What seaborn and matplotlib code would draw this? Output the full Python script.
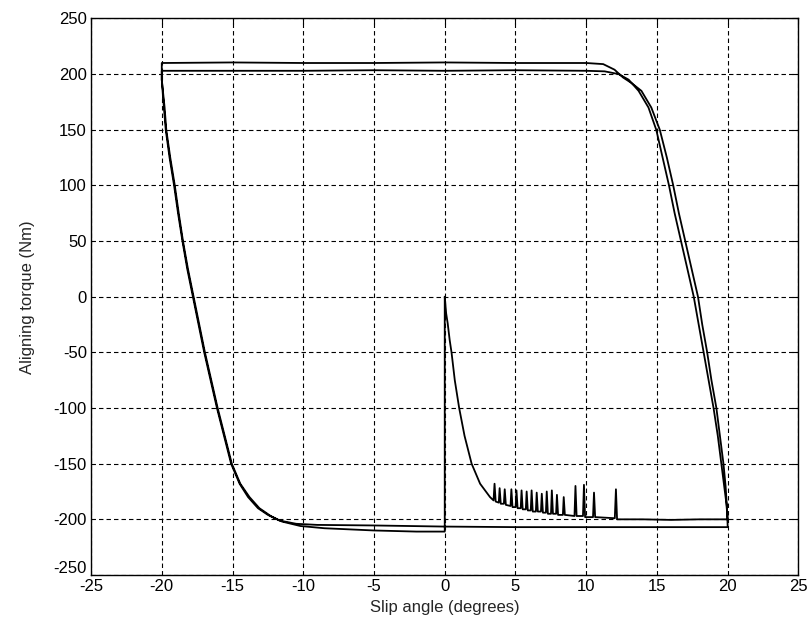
import numpy as np
import pandas as pd
import seaborn as sns
import matplotlib.pyplot as plt
import matplotlib.transforms as mtransforms

# initial run from zero slip: decay + chatter, then flat to 20 deg
transient_x = [0.00, 0.05, 0.10, 0.21, 0.35, 0.48, 0.71, 1.02, 1.40, 1.90, 2.50, 3.20,
               3.45, 3.52, 3.60, 3.82, 3.88, 3.96, 4.18, 4.24, 4.32, 4.65, 4.71, 4.79,
               5.01, 5.07, 5.15, 5.37, 5.43, 5.51, 5.73, 5.79, 5.87, 6.08, 6.14, 6.22,
               6.44, 6.50, 6.58, 6.80, 6.86, 6.94, 7.15, 7.21, 7.29, 7.51, 7.57, 7.65,
               7.87, 7.93, 8.01, 8.35, 8.41, 8.49, 9.17, 9.24, 9.32, 9.77, 9.84, 9.92,
               10.48, 10.55, 10.63, 12.02, 12.10, 12.18, 14.0, 16.0, 18.0, 20.0]
transient_y = [0, -8, -15, -24, -39, -50, -75, -100, -125, -150, -168, -180,
               -183, -168, -184, -185, -172, -186, -186, -173, -187, -188, -173, -189,
               -189, -174, -190, -190, -174, -191, -191, -175, -192, -192, -174, -193,
               -193, -176, -193, -193, -177, -194, -194, -175, -195, -195, -174, -195,
               -195, -178, -196, -196, -180, -196, -197, -170, -197, -197, -169, -198,
               -198, -176, -198, -199, -173, -200, -200, -200.5, -200, -200]

# first cycle
rise_a_x = [20.0, 19.9, 19.75, 19.55, 19.3, 19.0, 18.65, 18.3, 17.95, 17.6, 17.15, 16.7,
            16.25, 15.85, 15.4, 14.95, 14.4, 13.7, 13.0, 12.3, 11.3, 10.0]
rise_a_y = [-200, -185, -170, -150, -125, -100, -75, -50, -25, 0, 25, 50,
            75, 100, 125, 150, 170, 185, 195, 200, 202.5, 203]
top_a_x = [5.0, 0.0, -5.0, -10.0, -15.0, -20.0]
top_a_y = [203.5, 203, 203.5, 203, 203, 203]
fall_a_x = [-20.0, -19.85, -19.72, -19.45, -19.13, -18.85, -18.54, -18.2, -17.8, -17.4,
            -17.0, -16.55, -16.1, -15.6, -15.1, -14.5, -13.9, -13.2, -12.5, -11.7, -10.5, -9.0]
fall_a_y = [195, 170, 150, 125, 100, 75, 50, 25, 0, -25,
            -50, -75, -100, -125, -150, -168, -180, -190, -196, -201, -204, -205]
bot_a_x = [-5.0, 0.0, 5.0, 10.0, 15.0, 20.0]
bot_a_y = [-205.5, -206.5, -207, -207, -207, -207]

# second cycle
rise_b_x = [20.0, 19.95, 19.85, 19.7, 19.45, 19.2, 18.85, 18.55, 18.2, 17.9, 17.45, 17.0,
            16.55, 16.15, 15.7, 15.2, 14.6, 13.9, 13.2, 12.6, 12.0, 11.2, 10.0]
rise_b_y = [-207, -190, -170, -150, -125, -100, -75, -50, -25, 0, 25, 50,
            75, 100, 125, 150, 170, 185, 192, 197, 204, 209, 210]
top_b_x = [5.0, 0.0, -5.0, -10.0, -15.0, -20.0]
top_b_y = [210, 210.5, 210, 210, 210.5, 210]
fall_b_x = [-20.0, -19.8, -19.68, -19.4, -19.08, -18.8, -18.5, -18.15, -17.75, -17.35,
            -16.95, -16.5, -16.05, -15.55, -15.05, -14.45, -13.8, -13.1, -12.3, -11.5, -10.2, -8.5]
fall_b_y = [195, 170, 150, 125, 100, 75, 50, 25, 0, -25,
            -50, -75, -100, -125, -150, -168, -180, -190, -197, -202, -206, -208]
bot_b_x = [-5.0, -2.0, 0.0, 0.0]
bot_b_y = [-210, -211, -211, 0]

xs = (transient_x + rise_a_x + top_a_x + fall_a_x + bot_a_x
      + rise_b_x + top_b_x + fall_b_x + bot_b_x)
ys = (transient_y + rise_a_y + top_a_y + fall_a_y + bot_a_y
      + rise_b_y + top_b_y + fall_b_y + bot_b_y)
df = pd.DataFrame({"slip": xs, "torque": ys})

sns.set_style("white")
plt.rcParams['font.family'] = ['Liberation Sans', 'DejaVu Sans']
plt.rcParams['lines.scale_dashes'] = False
plt.rcParams['axes.unicode_minus'] = False

fig = plt.figure(figsize=(8.07, 6.35), dpi=100)
ax = fig.add_axes([0.1128, 0.0945, 0.8766, 0.8764])

sns.lineplot(data=df, x="slip", y="torque", sort=False, estimator=None,
             color="black", linewidth=1.3, ax=ax)

ax.set_xlim(-25, 25)
ax.set_ylim(-250, 250)
ax.set_xticks(np.arange(-25, 26, 5))
ax.set_yticks(np.arange(-250, 251, 50))
ax.grid(True, color="black", linestyle=(0, (3.2, 2.2)), linewidth=0.8)
ax.tick_params(direction="in", length=4, width=0.8, top=True, right=True,
               labelsize=12, colors="black", pad=3)
for s in ax.spines.values():
    s.set_color("black")
    s.set_linewidth(1.0)

# lift the bottom y label a little so it clears the first x label
lbl = ax.get_yticklabels()[0]
lbl.set_transform(lbl.get_transform() + mtransforms.ScaledTranslation(0, 6 / 72, fig.dpi_scale_trans))

ax.set_xlabel("Slip angle (degrees)", fontsize=12, labelpad=4)
ax.set_ylabel("Aligning torque (Nm)", fontsize=12, labelpad=13)

fig.savefig("out.png", dpi=100)
